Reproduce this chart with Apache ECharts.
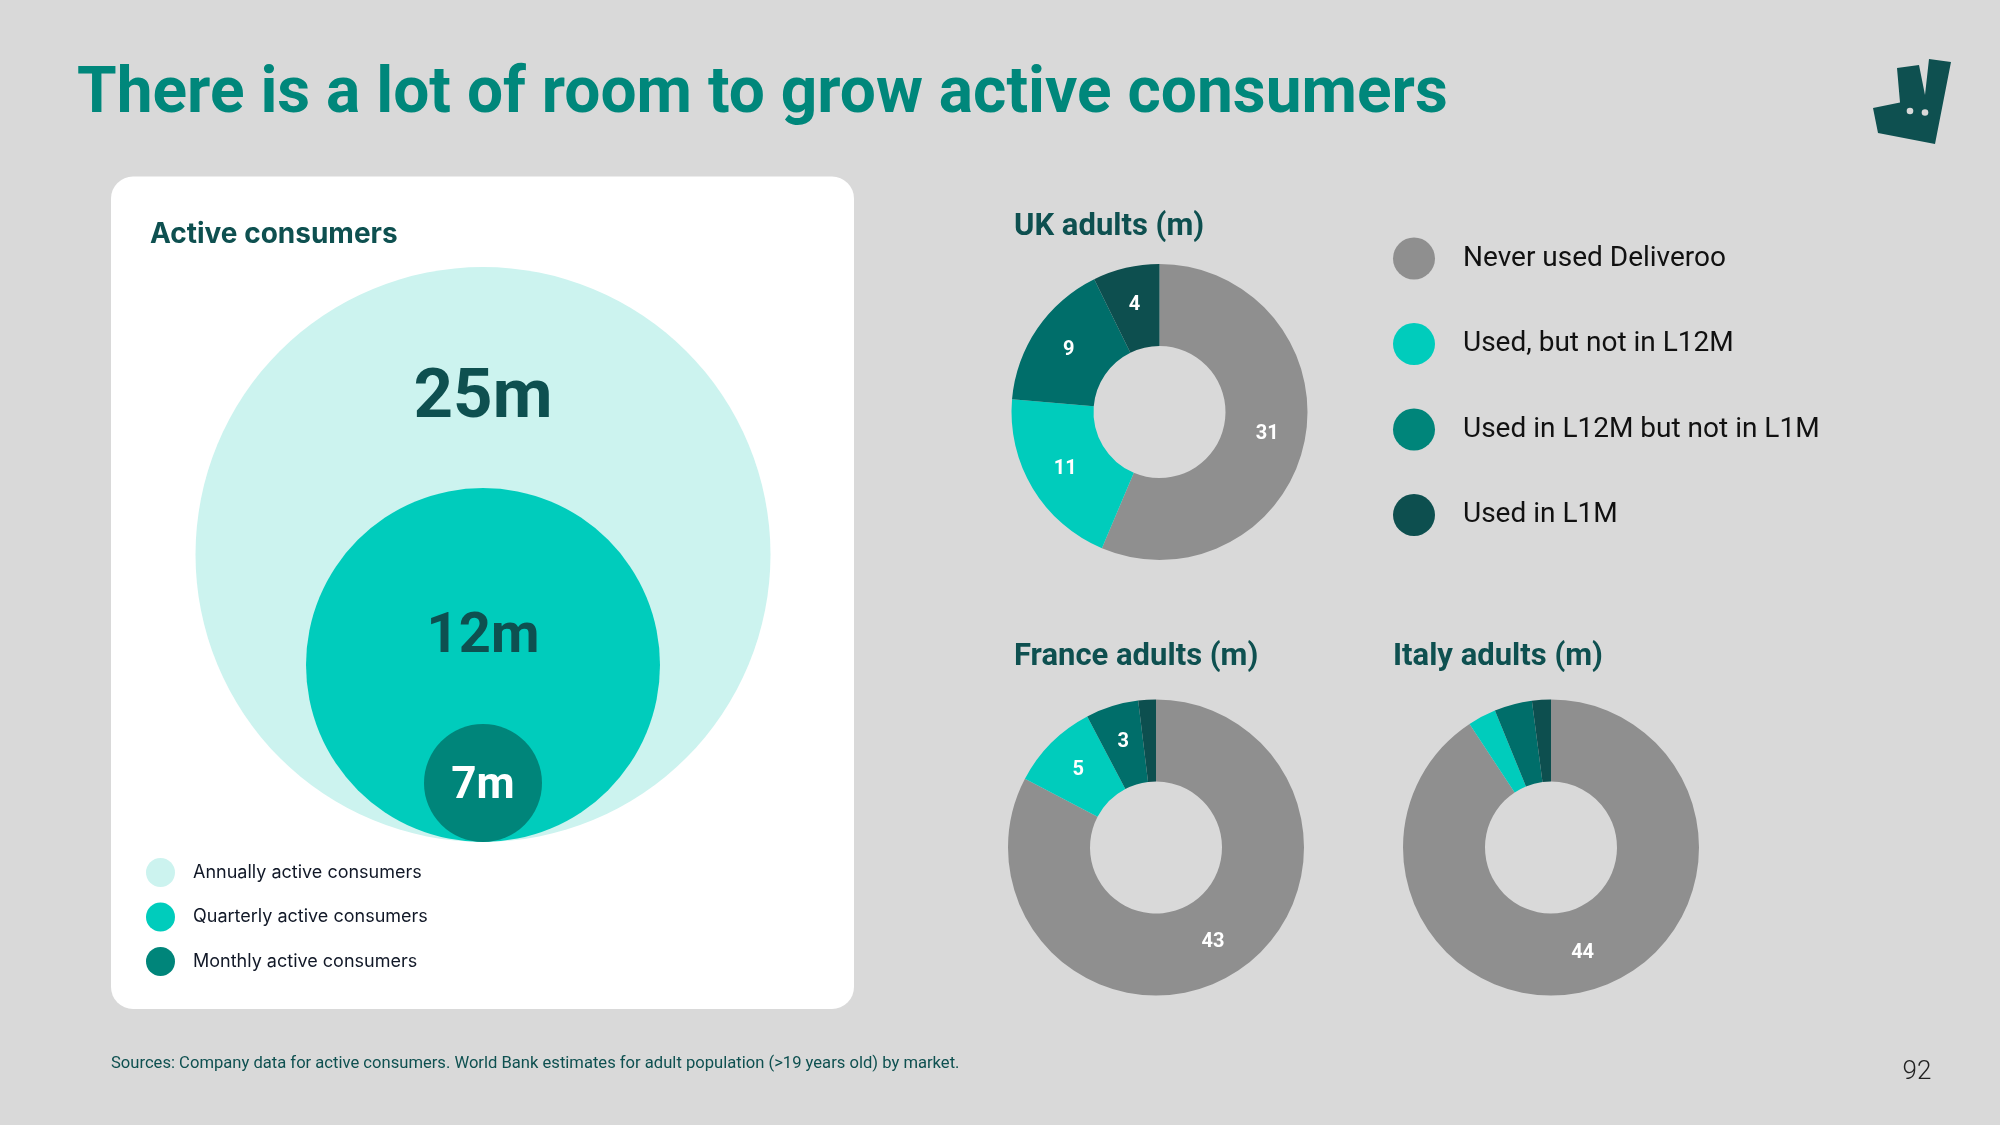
<!DOCTYPE html>
<html><head><meta charset="utf-8">
<script src="https://cdn.jsdelivr.net/npm/echarts@6/dist/echarts.min.js"></script>
<style>html,body{margin:0;padding:0;background:#D9D9D9;} #c{width:2000px;height:1125px;}</style>
</head><body><div id="c"></div>
<script>
// ---- data ----
const pageTitle = 'There is a lot of room to grow active consumers';
const activeTitle = 'Active consumers';
const activeNames = ['Annually active consumers', 'Quarterly active consumers', 'Monthly active consumers'];
const activeValues = [25, 12, 7];
const segmentNames = ['Never used Deliveroo', 'Used, but not in L12M', 'Used in L12M but not in L1M', 'Used in L1M'];
const ukValues = [31, 11, 9, 4];
const franceValues = [43, 5, 3, 1];
const italyValues = [44, 1.5, 2, 1];
const countryTitles = ['UK adults (m)', 'France adults (m)', 'Italy adults (m)'];
const footnote = 'Sources: Company data for active consumers. World Bank estimates for adult population (>19 years old) by market.';
const pageNumber = '92';

// ---- styles ----
const bubbleColors = ['#CCF3EF', '#00CCBC', '#00857A'];
const bubbleDiameters = [575, 354, 118];
const bubbleLabelY = ['23.1%', '42.3%', '53.5%'];
const bubbleLabelColors = ['#0E5050', '#0E5050', '#FFFFFF'];
const bubbleLabelSizes = [69, 56, 44];
const pieColors = ['#8F8F8F', '#00CCBC', '#006E6A', '#0D4F4F'];
const legendColors = ['#8F8F8F', '#00CCBC', '#00857A', '#0D4F4F'];
const dark = '#0E5050';

const chart = echarts.init(document.getElementById('c'), null, {renderer: 'canvas'});

function pieSeries(values, center) {
  return {
    type: 'pie', radius: [66, 148], center: center, startAngle: 90, clockwise: true,
    silent: true, avoidLabelOverlap: false, animation: false,
    label: {show: true, position: 'inside', color: '#fff', fontFamily: 'Roboto', fontWeight: 'bold', fontSize: 20,
      formatter: p => p.value},
    labelLine: {show: false},
    emphasis: {disabled: true},
    data: values.map((v, i) => ({name: segmentNames[i], value: v, itemStyle: {color: pieColors[i]}, label: {show: v >= 3}}))
  };
}

const scatterSeries = activeNames.map((name, i) => ({
  type: 'scatter', name: name, symbol: 'circle', symbolSize: bubbleDiameters[i], symbolOffset: [0, '-50%'],
  clip: false, silent: true, animation: false, z: 2 + i,
  itemStyle: {color: bubbleColors[i], opacity: 1},
  data: [[0, 0, activeValues[i]]],
  label: {show: true, position: ['50%', bubbleLabelY[i]], align: 'center', verticalAlign: 'middle',
    formatter: p => p.value[2] + 'm', fontFamily: 'Roboto', fontWeight: 'bold', fontSize: bubbleLabelSizes[i], color: bubbleLabelColors[i]}
}));

function txt(x, y, text, size, weight, family, color, align) {
  return {type: 'text', x: x, y: y, silent: true,
    style: {text: text, fontSize: size, fontWeight: weight, fontFamily: family, fill: color, verticalAlign: 'middle', align: align || 'left'}};
}

const option = {
  backgroundColor: '#D9D9D9',
  animation: false,
  grid: {left: 383, top: 742, width: 200, height: 200, show: false},
  xAxis: {type: 'value', min: -1, max: 1, show: false},
  yAxis: {type: 'value', min: -1, max: 1, show: false},
  legend: [
    {data: activeNames.map((n, i) => ({name: n, itemStyle: {color: bubbleColors[i]}})), orient: 'vertical',
      left: 141, top: 853, itemWidth: 29, itemHeight: 29, itemGap: 15.5, icon: 'circle', selectedMode: false,
      textStyle: {fontFamily: 'Inter', fontSize: 18, color: '#111827', padding: [0, 0, 0, 13]}},
    {data: segmentNames.map((n, i) => ({name: n, itemStyle: {color: legendColors[i]}})), orient: 'vertical',
      left: 1388, top: 232.5, itemWidth: 42, itemHeight: 42, itemGap: 43.5, icon: 'circle', selectedMode: false,
      textStyle: {fontFamily: 'Roboto', fontSize: 28, color: '#111111', padding: [0, 0, 0, 23]}}
  ],
  graphic: [
    {type: 'rect', z: -10, silent: true, shape: {x: 111, y: 176.5, width: 743, height: 832.5, r: 22}, style: {fill: '#FFFFFF'}},
    txt(77, 96, pageTitle, 64, 'bold', 'Roboto', '#00877B'),
    txt(150, 235, activeTitle, 28, 'bold', 'Inter', dark),
    txt(1014, 227.5, countryTitles[0], 31, 'bold', 'Roboto', dark),
    txt(1014, 657.5, countryTitles[1], 31, 'bold', 'Roboto', dark),
    txt(1393, 657.5, countryTitles[2], 31, 'bold', 'Roboto', dark),
    txt(111, 1064, footnote, 16.6, 'normal', 'Roboto', dark),
    txt(1917, 1072, pageNumber, 26, 300, 'Roboto', '#222222', 'center'),
    {type: 'polygon', silent: true, shape: {points: [[1897, 68], [1919, 65], [1925, 95], [1929, 59], [1951, 62], [1935, 144], [1878, 133], [1873, 108], [1900, 102.5]]}, style: {fill: '#0E5050'}},
    {type: 'circle', silent: true, shape: {cx: 1910, cy: 111, r: 3.3}, style: {fill: '#D9D9D9'}},
    {type: 'circle', silent: true, shape: {cx: 1925, cy: 112.5, r: 3.3}, style: {fill: '#D9D9D9'}}
  ],
  series: scatterSeries.concat([
    pieSeries(ukValues, [1159.5, 412]),
    pieSeries(franceValues, [1156, 847.5]),
    pieSeries(italyValues, [1551, 847.5])
  ])
};
chart.setOption(option);
</script>
</body></html>
